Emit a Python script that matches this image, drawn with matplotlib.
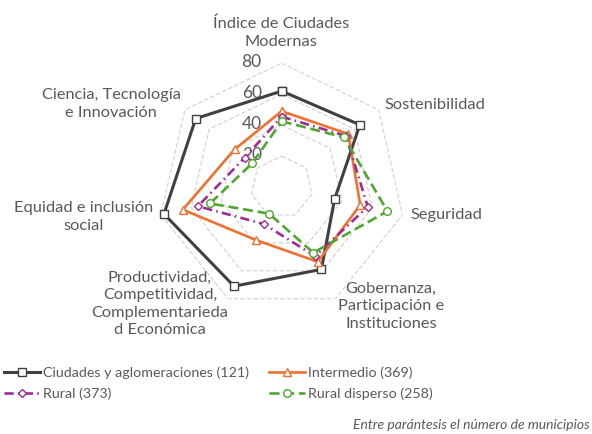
import numpy as np
import matplotlib
matplotlib.use("Agg")
import matplotlib.pyplot as plt

# ── data ────────────────────────────────────
CATEGORIES = [
    "Índice de Ciudades\nModernas",
    "Sostenibilidad",
    "Seguridad",
    "Gobernanza,\nParticipación e\nInstituciones",
    "Productividad,\nCompetitividad,\nComplementarieda\nd Económica",
    "Equidad e inclusión\nsocial",
    "Ciencia, Tecnología\ne Innovación",
]

ciudades   = [62, 64.5, 35, 59, 71, 78, 71]
intermedio = [49, 55, 52, 53.5, 38, 65.5, 39]
rural      = [45.5, 53, 57, 49.5, 26.5, 55.5, 30.5]
disperso   = [42.5, 51.5, 70, 47, 19, 47.5, 24.5]

SERIES_NAMES = ["Ciudades y aglomeraciones (121)", "Intermedio (369)",
                "Rural (373)", "Rural disperso (258)"]
R_TICKS = [20, 40, 60, 80]

# ── style ───────────────────────────────────
plt.rcParams["font.family"] = ["Lato", "DejaVu Sans"]
TXT = "#595959"
W, H = 592, 434

fig = plt.figure(figsize=(W / 100, H / 100), dpi=100)
ax = fig.add_axes([0.2664, 0.2834, 0.419, 0.571], projection="polar")
ax.set_theta_offset(np.pi / 2)
ax.set_theta_direction(-1)
ax.set_ylim(0, 80)
ax.set_frame_on(False)
ax.grid(False)
ax.set_xticks([])
ax.set_yticks([])
ax.patch.set_alpha(0)

n = len(CATEGORIES)
theta = np.linspace(0, 2 * np.pi, n, endpoint=False)
theta_c = np.append(theta, theta[0])

def closed(v):
    return np.append(v, v[0])

# polygon gridlines
for r in R_TICKS:
    ax.plot(theta_c, [r] * (n + 1), color="#d0d0d0", lw=0.8,
            linestyle=(0, (4, 2)), zorder=1)
    ax.annotate(str(r), xy=(0, r), xytext=(-20, 1), textcoords="offset pixels",
                ha="right", va="center", fontsize=12.5, color=TXT)

styles = [
    dict(color="#404040", lw=2.2, marker="s", linestyle="-"),
    dict(color="#F07030", lw=1.9, marker="^", linestyle="-"),
    dict(color="#A02B93", lw=1.9, marker="D", linestyle=(0, (3.5, 1.6, 0.6, 1.6))),
    dict(color="#4EA72E", lw=1.9, marker="o", linestyle=(0, (3.8, 1.8))),
]
marker_sizes = [5.5, 5.5, 4.5, 5.5]

handles = []
for vals, name, st, ms in zip([ciudades, intermedio, rural, disperso],
                              SERIES_NAMES, styles, marker_sizes):
    h, = ax.plot(theta_c, closed(vals), color=st["color"], lw=st["lw"],
                 linestyle=st["linestyle"], marker=st["marker"], ms=ms,
                 mfc="white", mec=st["color"], mew=1.0, label=name,
                 zorder=3, clip_on=False)
    handles.append(h)

# category labels (pixel centres)
label_pos = [(281, 33), (435, 105), (446, 215), (391, 306),
             (160, 304), (84, 217), (111, 104)]
for lab, (px, py) in zip(CATEGORIES, label_pos):
    fig.text(px / W, 1 - py / H, lab, ha="center", va="center",
             fontsize=11.8, color=TXT, linespacing=1.32)

# legend: column-wise -> Ciudades, Rural | Intermedio, Rural disperso
order = [0, 2, 1, 3]
fig.legend([handles[i] for i in order], [SERIES_NAMES[i] for i in order],
           loc="upper left", bbox_to_anchor=(4 / W, 1 - 366 / H), ncol=2,
           frameon=False, fontsize=10.3, labelcolor=TXT, borderpad=0,
           handlelength=2.5, handletextpad=0.2, columnspacing=1.45,
           labelspacing=0.6, borderaxespad=0)

fig.text(590 / W, 1 - 425 / H, "Entre parántesis el número de municipios",
         ha="right", va="center", fontsize=10, style="italic", color=TXT)

fig.savefig("out.png", dpi=100)
